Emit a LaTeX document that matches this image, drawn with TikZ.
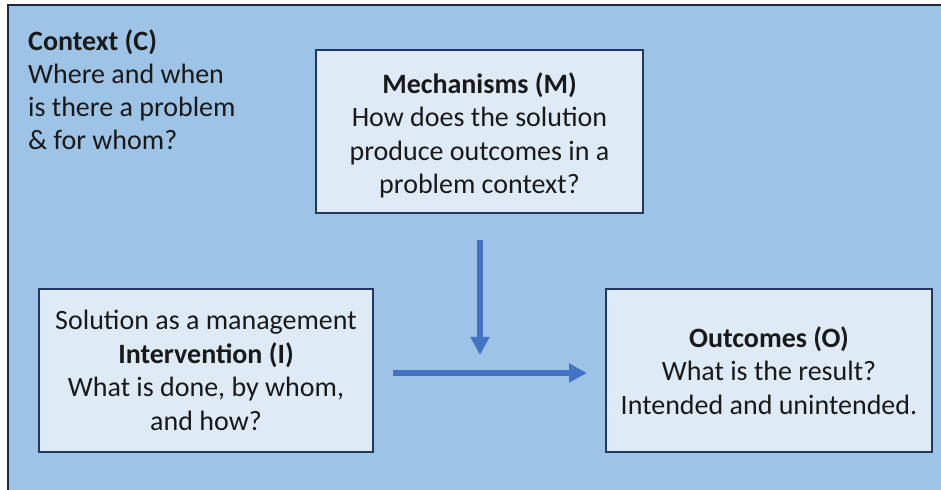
\documentclass[tikz,border=0pt]{standalone}
\usepackage{fontspec}
\setmainfont{Carlito}
\usetikzlibrary{arrows.meta}
\definecolor{panelblue}{HTML}{9DC3E6}
\definecolor{boxfill}{HTML}{DEEBF7}
\definecolor{boxline}{HTML}{203864}
\definecolor{framedark}{HTML}{1C2A4A}
\definecolor{flowblue}{HTML}{4472C4}
\tikzset{
  boxtext/.style={align=center, inner sep=0pt,
    font=\fontsize{28bp}{33.5bp}\selectfont, text=black!90},
  cmobox/.style={boxtext, draw=boxline, line width=2bp, fill=boxfill},
  contexttext/.style={align=left, inner sep=0pt, anchor=north west,
    font=\fontsize{28bp}{33bp}\selectfont, text=black!90},
  flow/.style={draw=flowblue, line width=6bp,
    -{Triangle[width=18bp,length=18bp]}, flowblue}
}
\begin{document}
\begin{tikzpicture}[x=1bp,y=-1bp]
  \useasboundingbox (0,0) rectangle (941,490);
  % panel background with its dark left and top edges
  \fill[panelblue] (8,5) rectangle (941,490);
  \draw[framedark, line width=2.2bp] (8,490) -- (8,5) -- (941,5);

  % context label in the upper left corner
  \node[contexttext] (context) at (28,30)
    {\textbf{Context (C)}\\Where and when\\is there a problem\\\& for whom?};

  % the three boxes
  \node[cmobox, minimum width=327bp, minimum height=163bp] (mech) at (479.5,131.5) {};
  \node[boxtext] (mechtext) at ([yshift=-4bp]mech.center)
    {\textbf{Mechanisms (M)}\\How does the solution\\produce outcomes in a\\problem context?};
  \node[cmobox, minimum width=334bp, minimum height=163bp] (interv) at (206,370.5)
    {Solution as a management\\\textbf{Intervention (I)}\\What is done, by whom,\\and how?};
  \node[cmobox, minimum width=326bp, minimum height=163bp] (outc) at (769,370.5)
    {\textbf{Outcomes (O)}\\What is the result?\\Intended and unintended.};

  % arrows between the boxes
  \coordinate (mtop) at (480,240);
  \coordinate (mtip) at (480,355);
  \coordinate (istart) at (393,373);
  \coordinate (oend) at (587,373);
  \draw[flow] (mtop) -- (mtip);
  \draw[flow] (istart) -- (oend);
\end{tikzpicture}
\end{document}
